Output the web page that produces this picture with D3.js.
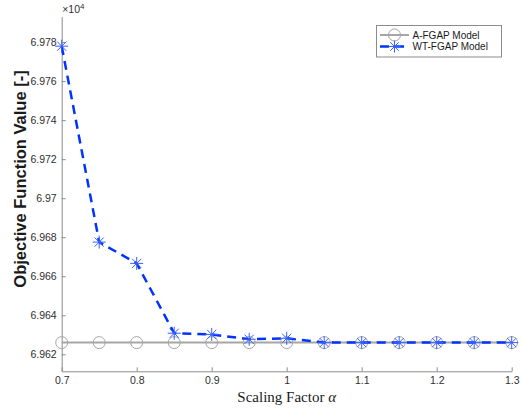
<!DOCTYPE html>
<html>
<head>
<meta charset="utf-8">
<script src="https://cdn.jsdelivr.net/npm/d3@7"></script>
<style>
  html, body { margin: 0; padding: 0; background: #fff; }
  svg { display: block; }
</style>
</head>
<body>
<svg id="chart" width="522" height="411"></svg>
<script>
// Scaling factor values on the x axis
const alphas = [0.7, 0.75, 0.8, 0.85, 0.9, 0.95, 1.0, 1.05, 1.1, 1.15, 1.2, 1.25, 1.3];
// Objective function values for each model
const aFgap  = [69626.0, 69626.0, 69626.0, 69626.0, 69626.0, 69626.0, 69626.0, 69626.0, 69626.0, 69626.0, 69626.0, 69626.0, 69626.0];
const wtFgap = [69777.9, 69677.5, 69666.6, 69630.8, 69630.2, 69627.7, 69628.2, 69626.0, 69626.0, 69626.0, 69626.0, 69626.0, 69626.0];
// Axis ticks
const xTicks = [0.7, 0.8, 0.9, 1.0, 1.1, 1.2, 1.3];
const xTickLabels = ["0.7", "0.8", "0.9", "1", "1.1", "1.2", "1.3"];
const yTicks = [69620, 69640, 69660, 69680, 69700, 69720, 69740, 69760, 69780];
const yTickLabels = ["6.962", "6.964", "6.966", "6.968", "6.97", "6.972", "6.974", "6.976", "6.978"];
const seriesNames = ["A-FGAP Model", "WT-FGAP Model"];

const sans = "'Liberation Sans', Arial, Helvetica, sans-serif";
const serif = "'Liberation Serif', 'DejaVu Serif', serif";

const svg = d3.select("#chart").style("font-family", sans);
const plotLeft = 61.7, plotRight = 511.7, plotTop = 16.7, plotBottom = 371.3;

const x = d3.scaleLinear().domain([0.7, 1.3]).range([plotLeft, plotRight]);
const y = d3.scaleLinear().domain([69611.3, 69793]).range([plotBottom, plotTop]);

const axisColor = "#8c8c8c";
const labelColor = "#303030";
const grey = "#a6a6a6";
const blue = "#0033ff";

// Y axis (ticks pointing inward)
const yAxis = d3.axisLeft(y).tickValues(yTicks)
  .tickFormat((d, i) => yTickLabels[i]).tickSizeInner(-4).tickSizeOuter(0).tickPadding(5);
const gy = svg.append("g").attr("transform", `translate(${plotLeft},0)`).call(yAxis);
gy.select(".domain").attr("stroke", axisColor).attr("stroke-width", 1);
gy.selectAll(".tick line").attr("stroke", axisColor);
gy.selectAll(".tick text").attr("fill", labelColor)
  .style("font-size", "10.5px").style("font-family", sans);

// X axis (ticks pointing inward)
const xAxis = d3.axisBottom(x).tickValues(xTicks)
  .tickFormat((d, i) => xTickLabels[i]).tickSizeInner(-4).tickSizeOuter(0).tickPadding(5);
const gx = svg.append("g").attr("transform", `translate(0,${plotBottom})`).call(xAxis);
gx.select(".domain").attr("stroke", axisColor).attr("stroke-width", 1);
gx.selectAll(".tick line").attr("stroke", axisColor);
gx.selectAll(".tick text").attr("fill", labelColor)
  .style("font-size", "10.5px").style("font-family", sans);

// Exponent multiplier above the y axis
const expo = svg.append("text").attr("x", plotLeft + 0.5).attr("y", 13)
  .attr("fill", labelColor).style("font-size", "10.5px");
expo.append("tspan").text("\u00d710");
expo.append("tspan").attr("dy", -4).style("font-size", "8px").text("4");

// Axis titles
svg.append("text")
  .attr("transform", "translate(26,179) rotate(-90)")
  .attr("text-anchor", "middle").attr("font-weight", "bold")
  .style("font-size", "16.5px").attr("fill", "#1a1a1a")
  .text("Objective Function Value [-]");

const xl = svg.append("text").attr("x", (plotLeft + plotRight) / 2).attr("y", 402)
  .attr("text-anchor", "middle").style("font-size", "15px")
  .style("font-family", serif).attr("fill", "#1a1a1a");
xl.append("tspan").text("Scaling Factor ");
xl.append("tspan").attr("font-style", "italic").text("\u03b1");

const line = d3.line().x(d => x(d[0])).y(d => y(d[1]));

// A-FGAP: solid grey line with open circles
const aData = alphas.map((a, i) => [a, aFgap[i]]);
svg.append("path").datum(aData).attr("d", line)
  .attr("fill", "none").attr("stroke", grey).attr("stroke-width", 2);
svg.append("g").selectAll("circle").data(aData).join("circle")
  .attr("cx", d => x(d[0])).attr("cy", d => y(d[1])).attr("r", 6)
  .attr("fill", "none").attr("stroke", grey).attr("stroke-width", 1);

// WT-FGAP: dashed blue line with asterisk markers
const wData = alphas.map((a, i) => [a, wtFgap[i]]);
svg.append("path").datum(wData).attr("d", line)
  .attr("fill", "none").attr("stroke", blue).attr("stroke-width", 2.5)
  .attr("stroke-dasharray", "9,6");

function asterisk(g, cx, cy, r) {
  const p = [];
  for (let k = 0; k < 4; k++) {
    const ang = k * Math.PI / 4;
    const dx = r * Math.cos(ang), dy = r * Math.sin(ang);
    p.push(`M${cx - dx},${cy - dy}L${cx + dx},${cy + dy}`);
  }
  g.append("path").attr("d", p.join("")).attr("stroke", "#3860ff")
    .attr("stroke-width", 1).attr("fill", "none");
}
const ag = svg.append("g");
wData.forEach(d => asterisk(ag, x(d[0]), y(d[1]), 6.5));

// Legend
const lg = svg.append("g");
lg.append("rect").attr("x", 376.5).attr("y", 25.5).attr("width", 125).attr("height", 31.5)
  .attr("fill", "#fff").attr("stroke", "#8c8c8c").attr("stroke-width", 1);
const ly = [35, 46.5];
lg.append("line").attr("x1", 380).attr("x2", 409).attr("y1", ly[0]).attr("y2", ly[0])
  .attr("stroke", grey).attr("stroke-width", 2);
lg.append("circle").attr("cx", 394.5).attr("cy", ly[0]).attr("r", 6)
  .attr("fill", "none").attr("stroke", grey).attr("stroke-width", 1);
lg.append("line").attr("x1", 380).attr("x2", 409).attr("y1", ly[1]).attr("y2", ly[1])
  .attr("stroke", blue).attr("stroke-width", 2.5).attr("stroke-dasharray", "9,6");
asterisk(lg, 394.5, ly[1], 6);
seriesNames.forEach((n, i) => {
  lg.append("text").attr("x", 412.5).attr("y", ly[i] + 3.5).style("font-size", "10px")
    .attr("fill", "#1a1a1a").text(n);
});
</script>
</body>
</html>
